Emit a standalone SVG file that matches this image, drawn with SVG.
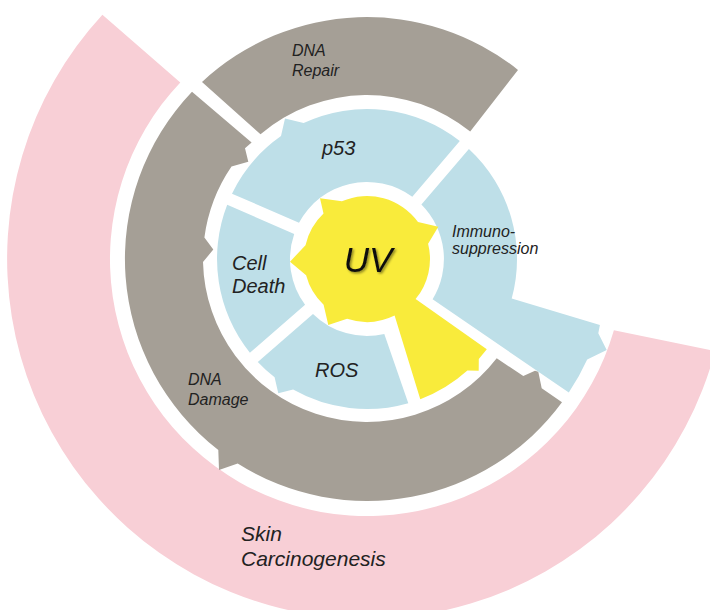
<svg xmlns="http://www.w3.org/2000/svg" width="710" height="610" viewBox="0 0 710 610">
<defs>
<style>
.pink{fill:#F8CFD6}
.gray{fill:#A59F96}
.blue{fill:#BEDFE8}
.yellow{fill:#F9EB3B}
.lbl{font-family:"Liberation Sans",Arial,sans-serif;font-style:italic;fill:#222}
.s16{font-size:16px}
.s20{font-size:20px}
</style>
<filter id="sh" x="-20%" y="-20%" width="150%" height="150%">
<feDropShadow dx="1.5" dy="1.5" stdDeviation="1.2" flood-color="#000" flood-opacity="0.45"/>
</filter>
</defs>
<rect width="710" height="610" fill="#fff"/>

<g id="skin-carcinogenesis">
<path class="pink" d="M613.9,330.3 L715.1,351 A360,360 0 1 1 102.4,14.8 L180.3,82.4 A257,257 0 1 0 613.9,330.3 Z"/>
<text class="lbl" font-size="21" x="241" y="541">Skin</text>
<text class="lbl" font-size="21" x="241" y="566">Carcinogenesis</text>
</g>

<g id="dna-repair">
<path class="gray" d="M202,82 A242,242 0 0 1 518,69.9 L470.2,131.6 A164,164 0 0 0 260.5,134.3 Z"/>
<text class="lbl s16" x="292" y="56">DNA</text>
<text class="lbl s16" x="292" y="76">Repair</text>
</g>

<g id="dna-damage">
<path class="gray" d="M192,91.8 A242,242 0 0 0 218.3,450 L219,470 L237.7,463.6 A242,242 0 0 0 562,402.3 L541.7,388.3 L538.3,371.7 L535,370.7 L523.3,376 L496.7,358.3 A164,164 0 0 1 203,261.9 L213.3,249.6 L204.4,237.6 A164,164 0 0 1 231.5,166.6 L248.3,161.7 L245,148.3 L251.6,142.4 Z"/>
<text class="lbl s16" x="188" y="385">DNA</text>
<text class="lbl s16" x="188" y="405">Damage</text>
</g>

<g id="p53">
<path class="blue" d="M232,193.7 A150,150 0 0 1 281,136.1 L285,118.5 L303.6,123.1 A150,150 0 0 1 459.8,141.1 L412.3,196.7 A77,77 0 0 0 299,222.8 Z"/>
<text class="lbl s20" x="322" y="155">p53</text>
</g>

<g id="immunosuppression">
<path class="blue" d="M468.9,148.9 A150,150 0 0 1 511.7,298.6 L599.9,324.9 L598.3,333.3 L606.7,350 L587.2,359.4 A242,242 0 0 1 568.8,392.6 L432.6,299.2 A77,77 0 0 0 421.4,204.6 Z"/>
<text class="lbl s16" x="452" y="237">Immuno-</text>
<text class="lbl s16" x="452" y="254">suppression</text>
</g>

<g id="cell-death">
<path class="blue" d="M294.2,233.9 L227.2,204.8 A150,150 0 0 0 249.9,352.8 L305.1,304.8 A77,77 0 0 1 294.2,233.9 Z"/>
<text class="lbl s20" x="232" y="270">Cell</text>
<text class="lbl s20" x="232" y="293">Death</text>
</g>

<g id="ros">
<path class="blue" d="M313,313.9 L257.8,361.9 A150,150 0 0 0 274.6,377.2 L278.3,393.3 L293.1,389.6 A150,150 0 0 0 408.3,403.2 L384.3,334 A77,77 0 0 1 313,313.9 Z"/>
<text class="lbl s20" x="315" y="377">ROS</text>
</g>

<g id="uv">
<path class="yellow" d="M418,222 L438.3,226.7 L428.1,243.8 A63,63 0 0 1 415.6,299.1 L486.8,349.3 L478.8,359 L478.7,370.7 L467.4,370.5 A150,150 0 0 1 420.3,399.2 L394.6,315.6 A63,63 0 0 1 347.1,318.8 L328.3,325 L323.6,304.7 A63,63 0 0 1 306.1,275.2 L290,261.7 L305.5,245.2 A63,63 0 0 1 323.5,213.5 L320,198.3 L341.9,201.2 A63,63 0 0 1 418,222 Z"/>
<text class="lbl" x="368" y="272" font-size="35" text-anchor="middle" filter="url(#sh)" style="fill:#111">UV</text>
</g>

<g id="connectors"></g>
</svg>
